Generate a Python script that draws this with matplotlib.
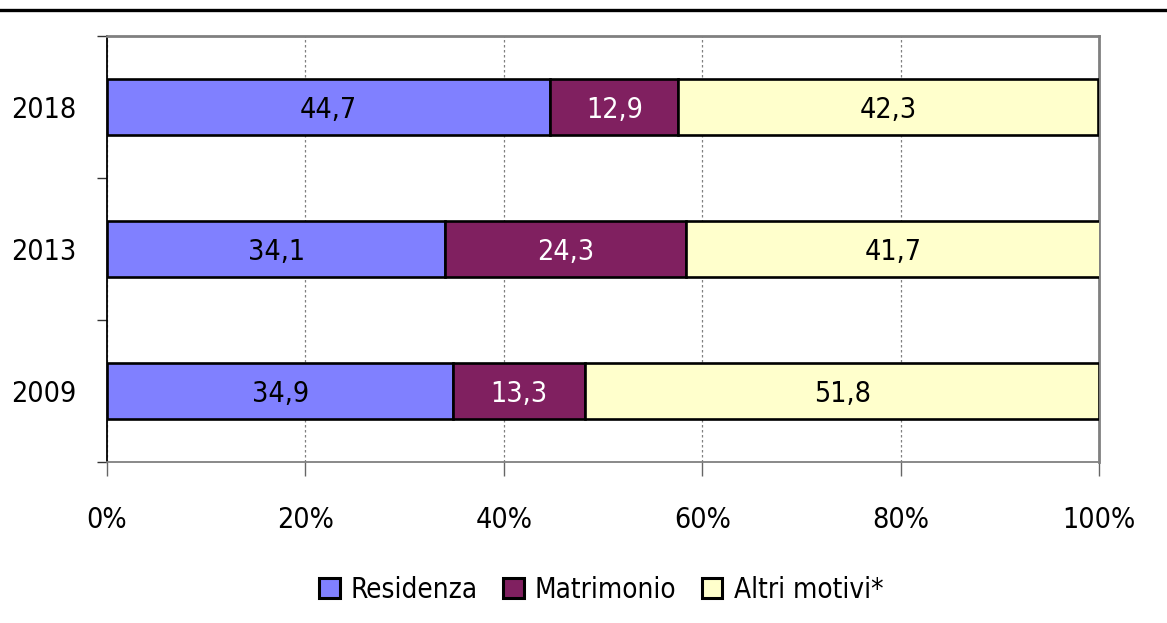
import matplotlib
matplotlib.use('Agg')
import matplotlib.pyplot as plt
from matplotlib import font_manager
from matplotlib.patches import Patch
from matplotlib.ticker import FuncFormatter

# data
years = ['2009', '2013', '2018']
residenza = [34.9, 34.1, 44.7]
matrimonio = [13.3, 24.3, 12.9]
altri = [51.8, 41.7, 42.3]
series_names = ['Residenza', 'Matrimonio', 'Altri motivi*']
series_colors = ['#8080FF', '#802060', '#FFFFCC']
label_colors = ['black', 'white', 'black']

# condensed font if there is one
cond = [f for f in font_manager.fontManager.ttflist if 'ondensed' in f.fname or 'arrow' in f.fname]
fam = cond[0].name if cond else 'DejaVu Sans'
plt.rcParams['font.family'] = [fam, 'DejaVu Sans']
if cond:
    plt.rcParams['font.stretch'] = cond[0].stretch

fig = plt.figure(figsize=(11.67, 6.23), dpi=100)
ax = fig.add_axes([107/1167, 1-462/623, 992/1167, 426/623])

# top rule
fig.add_artist(plt.Line2D([0, 1], [1-10/623, 1-10/623], color='black', lw=2.4, transform=fig.transFigure))

ypos = list(range(len(years)))
left = [0.0]*len(years)
for vals, col, lc in zip([residenza, matrimonio, altri], series_colors, label_colors):
    bars = ax.barh(ypos, vals, left=left, height=0.39, color=col, edgecolor='black', linewidth=1.9, zorder=3)
    for b, v in zip(bars, vals):
        ax.text(b.get_x() + b.get_width()/2, b.get_y() + b.get_height()/2, ('%.1f' % v).replace('.', ','),
                ha='center', va='center_baseline', color=lc, fontsize=20.5, zorder=4)
    left = [l + v for l, v in zip(left, vals)]

ax.set_xlim(0, 100)
ax.set_ylim(-0.5, 2.5)
ax.set_xticks([0, 20, 40, 60, 80, 100])
ax.xaxis.set_major_formatter(FuncFormatter(lambda x, p: '%d%%' % x))
ax.set_yticks(ypos)
ax.set_yticklabels(years)
ax.set_yticks([-0.5, 0.5, 1.5, 2.5], minor=True)
ax.tick_params(axis='y', which='major', length=0, labelsize=20.5, pad=22)
ax.tick_params(axis='y', which='minor', length=7, width=1, color='#333333')
ax.tick_params(axis='x', length=10, width=1, color='#666666', labelsize=20.5, pad=22)
ax.grid(axis='x', color='#808080', linestyle=(0, (2, 2)), linewidth=0.9, zorder=0)

ax.spines['left'].set_color('black')
ax.spines['left'].set_linewidth(1.3)
for s in ['top', 'right', 'bottom']:
    ax.spines[s].set_color('#808080')
    ax.spines[s].set_linewidth(2)
ax.spines['bottom'].set_linewidth(1.3)

handles = [Patch(facecolor=c, edgecolor='black', linewidth=2.2, label=n) for c, n in zip(series_colors, series_names)]
fig.legend(handles=handles, loc='center', bbox_to_anchor=(0.515, 1-590/623), ncol=3, frameon=False,
           fontsize=20, handlelength=0.75, handleheight=0.75, handletextpad=0.4, columnspacing=0.9)

fig.savefig('out.png', dpi=100)
